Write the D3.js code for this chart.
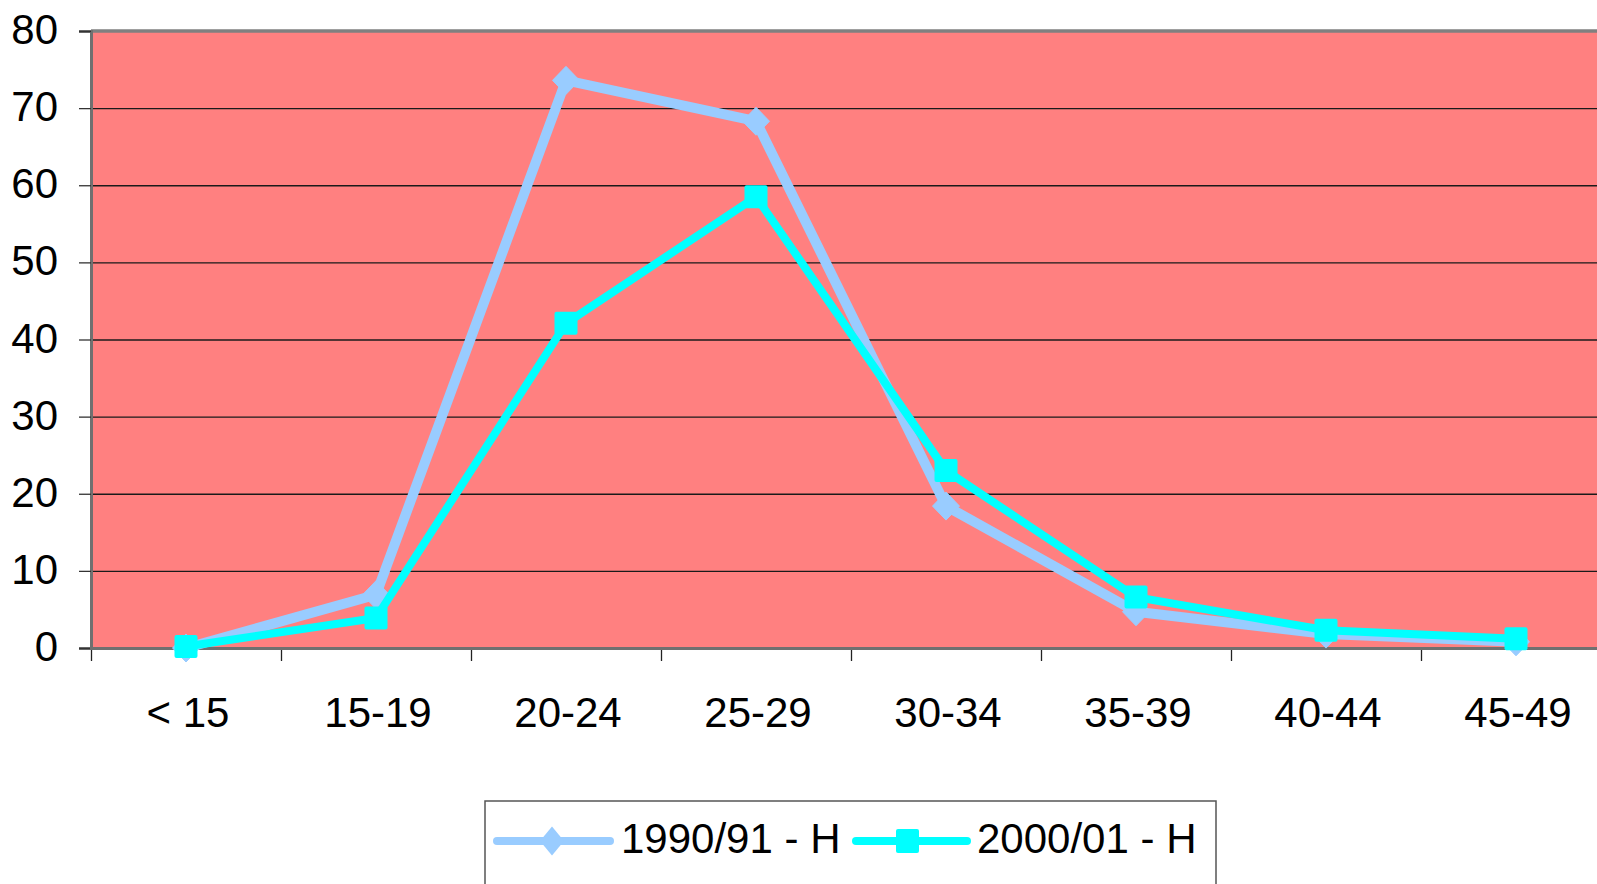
<!DOCTYPE html>
<html>
<head>
<meta charset="utf-8">
<script src="https://cdn.jsdelivr.net/npm/d3@7"></script>
<style>
  html, body { margin: 0; padding: 0; background: #fff; overflow: hidden; }
  svg { display: block; font-family: "Liberation Sans", Arial, sans-serif; }
</style>
</head>
<body>
<svg id="chart" width="1597" height="884"></svg>
<script>
const categories = ["< 15", "15-19", "20-24", "25-29", "30-34", "35-39", "40-44", "45-49"];
const series1990 = [0.0, 6.9, 73.6, 68.3, 18.4, 4.7, 1.8, 0.8];
const series2000 = [0.2, 3.9, 42.1, 58.5, 23.0, 6.6, 2.3, 1.2];
const seriesNames = ["1990/91 - H", "2000/01 - H"];
const yTicks = [0, 10, 20, 30, 40, 50, 60, 70, 80];

(function () {
const svg = d3.select("#chart");
const pLeft = 91, pTop = 31, pBottom = 648;
const bandW = 190;
const pRight = pLeft + bandW * categories.length;

const x = d3.scaleBand().domain(categories).range([pLeft, pRight]).padding(0);
const y = d3.scaleLinear().domain([0, 80]).range([pBottom, pTop]);

// plot background
svg.append("rect").attr("x", pLeft).attr("y", pTop)
  .attr("width", pRight - pLeft).attr("height", pBottom - pTop)
  .attr("fill", "#FF8080");

// gridlines
svg.append("g").selectAll("line").data(yTicks.filter(d => d > 0 && d < 80)).join("line")
  .attr("x1", pLeft).attr("x2", pRight)
  .attr("y1", d => y(d) + 0.5).attr("y2", d => y(d) + 0.5)
  .attr("stroke", "#1a1a1a").attr("stroke-width", 1.3);

// top border
svg.append("line").attr("x1", pLeft).attr("x2", pRight).attr("y1", pTop).attr("y2", pTop)
  .attr("stroke", "#808080").attr("stroke-width", 3.5);

// y axis
const yAxis = d3.axisLeft(y).tickValues(yTicks).tickSize(12).tickPadding(21).tickFormat(d3.format("d"));
const gy = svg.append("g").attr("transform", `translate(${pLeft},0)`).call(yAxis);
gy.select(".domain").attr("stroke", "#707070").attr("stroke-width", 3);
gy.selectAll(".tick line").attr("stroke", "#333").attr("stroke-width", 1.3);
gy.selectAll(".tick text").attr("font-size", 42).attr("fill", "#000")
  .attr("font-family", "Liberation Sans, Arial, sans-serif")
  .attr("dy", "0.30em");

// x axis
const xTickPos = d3.range(categories.length + 1).map(i => pLeft + i * bandW);
svg.append("g").selectAll("line").data(xTickPos).join("line")
  .attr("x1", d => d + 0.5).attr("x2", d => d + 0.5)
  .attr("y1", pBottom).attr("y2", pBottom + 13)
  .attr("stroke", "#222").attr("stroke-width", 1.3);
svg.append("line").attr("x1", pLeft - 1).attr("x2", pRight).attr("y1", pBottom + 0.5).attr("y2", pBottom + 0.5)
  .attr("stroke", "#707070").attr("stroke-width", 3);
svg.append("g").selectAll("text").data(categories).join("text")
  .attr("x", d => x(d) + x.bandwidth() / 2 + 2)
  .attr("y", 727)
  .attr("text-anchor", "middle")
  .attr("font-size", 42)
  .attr("fill", "#000")
  .text(d => d);

const line = d3.line().x((d, i) => x(categories[i]) + x.bandwidth() / 2).y(d => y(d));

const diamond = (w, h) => `M0,${-h/2} L${w/2},0 L0,${h/2} L${-w/2},0 Z`;

// series 1990/91
const g1 = svg.append("g");
g1.append("path").datum(series1990).attr("d", line)
  .attr("fill", "none").attr("stroke", "#99CCFF").attr("stroke-width", 10)
  .attr("stroke-linejoin", "round");
g1.selectAll("path.m").data(series1990).join("path").attr("class", "m")
  .attr("transform", (d, i) => `translate(${x(categories[i]) + x.bandwidth() / 2},${y(d)})`)
  .attr("d", diamond(27, 28))
  .attr("fill", "#99CCFF").attr("stroke", "#99CCFF").attr("stroke-width", 1).attr("stroke-linejoin", "round");

// series 2000/01
const g2 = svg.append("g");
g2.append("path").datum(series2000).attr("d", line)
  .attr("fill", "none").attr("stroke", "#00FFFF").attr("stroke-width", 8)
  .attr("stroke-linejoin", "round");
g2.selectAll("rect").data(series2000).join("rect")
  .attr("x", (d, i) => x(categories[i]) + x.bandwidth() / 2 - 11.5)
  .attr("y", d => y(d) - 11.5)
  .attr("width", 23).attr("height", 23).attr("rx", 2)
  .attr("fill", "#00FFFF");

// legend
const lg = svg.append("g");
lg.append("rect").attr("x", 485).attr("y", 801).attr("width", 731).attr("height", 120)
  .attr("fill", "#fff").attr("stroke", "#555").attr("stroke-width", 1.5);
lg.append("line").attr("x1", 497).attr("x2", 610).attr("y1", 841).attr("y2", 841)
  .attr("stroke", "#99CCFF").attr("stroke-width", 8).attr("stroke-linecap", "round");
lg.append("path").attr("transform", "translate(552,841)").attr("d", diamond(24, 29))
  .attr("fill", "#99CCFF");
lg.append("text").attr("x", 621).attr("y", 853).attr("font-size", 42).attr("fill", "#000").text(seriesNames[0]);
lg.append("line").attr("x1", 856).attr("x2", 967).attr("y1", 841).attr("y2", 841)
  .attr("stroke", "#00FFFF").attr("stroke-width", 8).attr("stroke-linecap", "round");
lg.append("rect").attr("x", 896).attr("y", 829).attr("width", 23).attr("height", 24).attr("rx", 2)
  .attr("fill", "#00FFFF");
lg.append("text").attr("x", 977).attr("y", 853).attr("font-size", 42).attr("fill", "#000").text(seriesNames[1]);
})();
</script>
</body>
</html>
